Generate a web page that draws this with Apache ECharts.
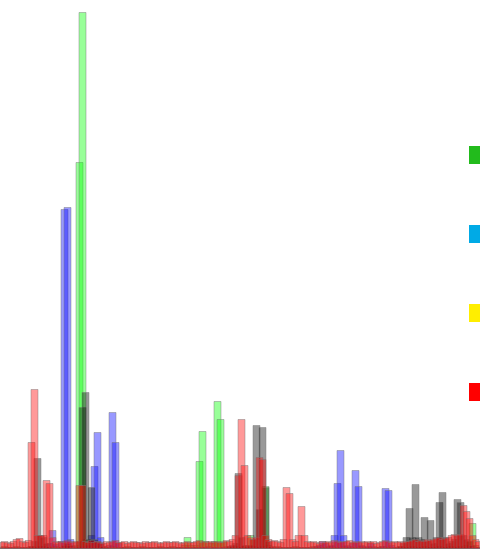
<!DOCTYPE html>
<html>
<head>
<meta charset="utf-8">
<style>
  html, body { margin: 0; padding: 0; background: #ffffff; }
  #chart { width: 480px; height: 555px; }
</style>
<script src="https://cdn.jsdelivr.net/npm/echarts/dist/echarts.min.js"></script>
</head>
<body>
<div id="chart"></div>
<script>
// Intensity per channel, one value per bin (160 bins).
var greenValues = [
  2,3,2,1,2,3,2,2,1,2,3,2,2,3,2,2,1,2,3,2,
  2,3,2,2,3,4,387,537,10,3,2,2,3,2,1,2,2,3,2,2,
  2,2,3,2,1,2,2,3,2,2,1,2,2,3,2,2,2,3,2,2,
  2,4,12,4,2,4,88,118,8,3,6,8,148,130,8,3,2,2,3,2,
  2,3,4,14,3,2,2,3,63,4,2,2,3,2,2,1,2,2,3,2,
  2,2,1,2,3,2,2,2,1,2,3,2,2,2,3,2,2,1,2,2,
  3,2,2,2,1,2,2,3,2,2,2,1,2,3,2,2,2,3,2,2,
  2,3,2,2,1,2,3,2,2,2,3,2,2,3,2,4,8,26,4,2
];
var blueValues = [
  1,2,1,2,2,1,2,2,1,2,2,1,2,2,3,2,6,19,5,2,
  8,340,342,10,3,2,2,3,2,4,14,83,117,12,3,2,4,137,107,6,
  2,2,1,2,2,1,2,2,1,2,2,1,2,2,1,2,2,1,2,2,
  1,2,2,1,2,2,1,2,2,1,2,2,1,2,2,1,2,2,1,2,
  2,1,2,2,1,2,2,1,2,2,1,2,2,1,2,2,1,2,2,1,
  2,2,1,2,2,3,4,8,6,3,4,14,66,99,14,4,3,6,79,63,
  4,2,3,6,3,2,2,3,61,59,4,2,1,2,2,1,2,2,1,2,
  2,1,2,2,1,2,2,1,2,2,1,2,2,1,2,2,3,2,1,2
];
var blackValues = [
  1,1,2,1,1,2,1,1,2,1,3,8,91,14,12,6,3,2,1,2,
  2,4,6,4,2,2,8,142,157,10,62,10,8,6,3,2,2,1,2,1,
  1,2,1,1,2,1,1,2,1,1,2,1,1,2,1,1,2,1,1,2,
  1,1,2,1,1,2,1,2,2,1,1,2,1,1,2,1,3,4,6,76,
  12,4,3,4,10,124,40,122,62,8,3,2,1,2,1,1,2,1,1,2,
  1,1,2,1,1,2,1,1,2,1,1,2,1,1,2,1,1,2,1,1,
  2,1,1,2,1,1,2,1,1,2,1,1,2,3,6,12,41,12,65,12,
  10,32,8,29,6,12,47,57,12,6,8,10,50,47,14,10,8,4,2,1
];
var redValues = [
  7,8,7,6,8,10,11,8,7,9,107,160,14,14,14,69,66,12,8,7,
  8,7,9,8,7,8,64,64,8,7,9,7,8,7,6,8,7,8,9,7,
  7,8,6,7,8,7,7,6,8,7,7,8,7,6,7,8,7,7,8,7,
  6,7,8,7,7,8,9,7,8,7,8,7,8,7,7,9,8,10,14,74,
  130,84,14,12,10,12,92,90,14,10,8,9,8,7,10,62,56,10,8,14,
  43,14,8,7,8,7,6,8,7,8,7,9,8,7,8,8,9,7,8,7,
  8,7,8,7,8,6,7,8,9,8,7,8,7,8,7,8,8,9,10,8,
  9,8,10,9,10,11,12,10,11,12,14,15,14,15,44,38,31,14,10,8
];
var seriesNames = ['Kanal 1', 'Kanal 2', 'Kanal 3', 'Kanal 4'];
var legendColors = ['#22bb1c', '#00aae6', '#ffee00', '#ff0000'];

var bins = greenValues.map(function (_, i) { return String(i + 1); });

function barSeries(name, values, rgb) {
  return {
    name: name,
    type: 'bar',
    data: values,
    barWidth: 8,
    barGap: '-100%',
    itemStyle: {
      color: 'rgba(' + rgb + ',0.4)',
      borderColor: 'rgba(120,120,120,0.45)',
      borderWidth: 1
    },
    emphasis: { disabled: true }
  };
}

var chart = echarts.init(document.getElementById('chart'), null, { renderer: 'canvas' });
chart.setOption({
  animation: false,
  backgroundColor: '#ffffff',
  grid: { left: 0, right: 0, top: 9, bottom: 6 },
  xAxis: { type: 'category', data: bins, show: false },
  yAxis: { type: 'value', min: 0, max: 540, show: false },
  legend: {
    orient: 'vertical',
    left: 469,
    top: 146,
    padding: 0,
    icon: 'rect',
    itemWidth: 25,
    itemHeight: 18,
    itemGap: 61,
    selectedMode: false,
    textStyle: { fontFamily: 'Liberation Sans', fontSize: 12, color: '#333' },
    data: seriesNames.map(function (n, i) {
      return { name: n, itemStyle: { color: legendColors[i], opacity: 1, borderWidth: 0 } };
    })
  },
  series: [
    barSeries(seriesNames[0], greenValues, '0,255,0'),
    barSeries(seriesNames[1], blueValues, '0,0,255'),
    barSeries(seriesNames[2], blackValues, '0,0,0'),
    barSeries(seriesNames[3], redValues, '255,0,0')
  ]
});
</script>
</body>
</html>
